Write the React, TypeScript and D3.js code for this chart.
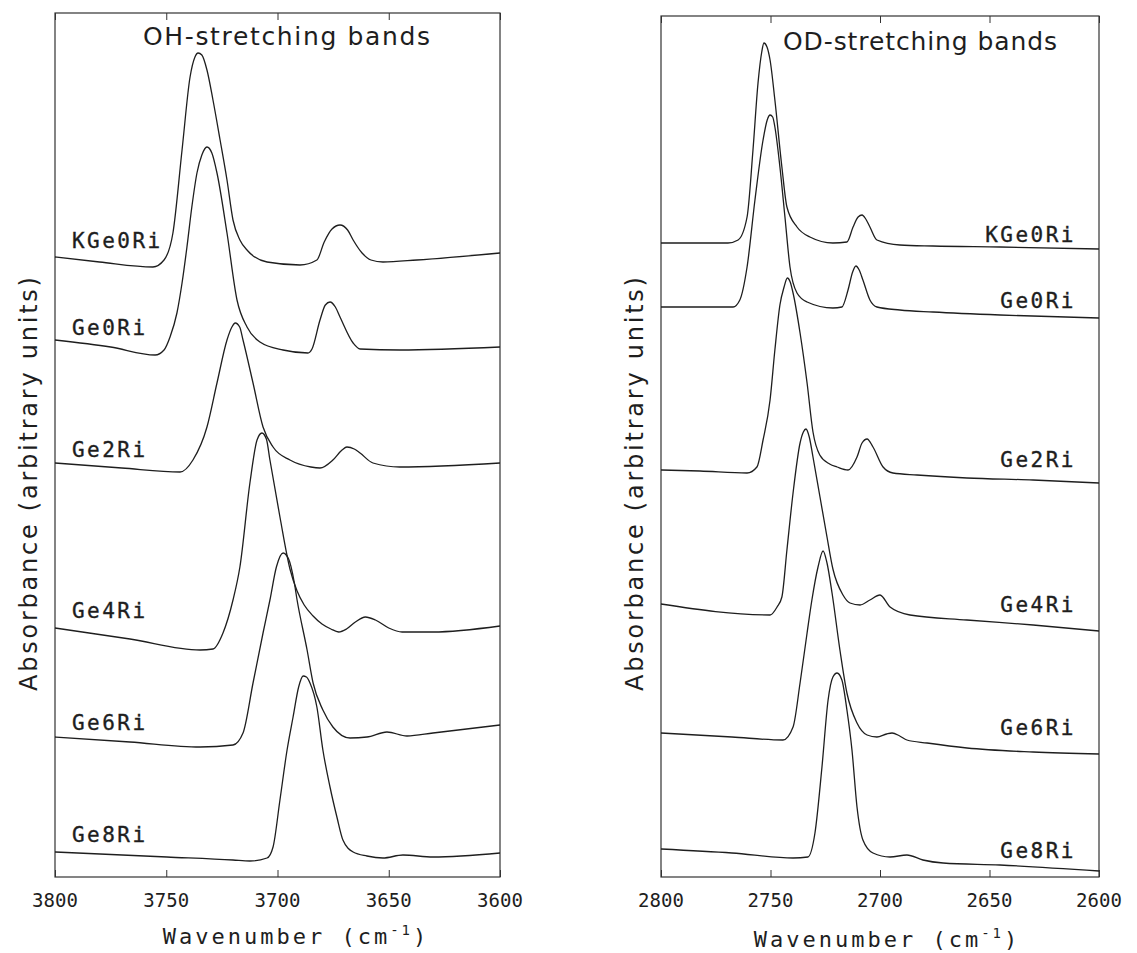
import React, { useEffect, useRef } from 'react';
import * as d3 from 'd3';

type Pt = [number, number];

const sampleNames = ['KGe0Ri', 'Ge0Ri', 'Ge2Ri', 'Ge4Ri', 'Ge6Ri', 'Ge8Ri'];

const ohTicks = [3800, 3750, 3700, 3650, 3600];
const odTicks = [2800, 2750, 2700, 2650, 2600];

// OH-stretching spectra, [wavenumber, absorbance incl. stacking offset]
const ohKGe0Ri: Pt[] = [[3800, 6.2], [3780, 6.15], [3756, 6.1], [3751, 6.17], [3747, 6.44], [3742.9, 7.27], [3739.3, 8.0], [3737.1, 8.2], [3735.7, 8.24], [3734, 8.22], [3731.7, 8.07], [3729, 7.77], [3725.8, 7.37], [3722.7, 6.97], [3720, 6.57], [3716.9, 6.37], [3713.3, 6.26], [3704.7, 6.15], [3689.9, 6.12], [3682.3, 6.17], [3679, 6.35], [3675.5, 6.48], [3671.9, 6.52], [3668.5, 6.47], [3666, 6.37], [3662, 6.24], [3658, 6.17], [3652.6, 6.15], [3637.3, 6.17], [3600, 6.24]];
const ohGe0Ri: Pt[] = [[3800, 5.37], [3775, 5.3], [3755, 5.22], [3751, 5.27], [3748.3, 5.4], [3745.2, 5.64], [3742.9, 5.94], [3740.7, 6.3], [3738.5, 6.7], [3736.2, 7.04], [3734, 7.22], [3731.7, 7.3], [3729.5, 7.24], [3727.2, 7.04], [3722.7, 6.44], [3718.2, 5.77], [3713.7, 5.5], [3707.9, 5.35], [3697.5, 5.27], [3686.3, 5.24], [3684.5, 5.28], [3680.9, 5.57], [3678.5, 5.72], [3676.4, 5.75], [3674, 5.7], [3671.9, 5.6], [3666, 5.34], [3662.9, 5.28], [3645, 5.27], [3600, 5.3]];
const ohGe2Ri: Pt[] = [[3800, 4.14], [3770, 4.09], [3743.8, 4.05], [3738, 4.17], [3731.7, 4.5], [3727.2, 4.94], [3722.7, 5.37], [3720.5, 5.5], [3719, 5.54], [3717, 5.5], [3715.5, 5.37], [3711, 4.94], [3706.5, 4.5], [3702, 4.3], [3694.4, 4.17], [3685, 4.1], [3680.9, 4.09], [3675.1, 4.17], [3671, 4.27], [3668.8, 4.3], [3665.5, 4.28], [3662.9, 4.24], [3657.1, 4.14], [3645, 4.1], [3600, 4.14]];
const ohGe4Ri: Pt[] = [[3800, 2.49], [3766.3, 2.38], [3734.8, 2.27], [3729, 2.28], [3724.5, 2.44], [3720, 2.77], [3716.9, 3.1], [3712.4, 3.94], [3709.2, 4.37], [3707, 4.44], [3705, 4.38], [3703.4, 4.17], [3698.9, 3.6], [3694.4, 3.08], [3691.2, 2.86], [3688, 2.72], [3684, 2.61], [3680, 2.53], [3676, 2.48], [3672.5, 2.45], [3669, 2.48], [3665, 2.55], [3660.5, 2.6], [3656, 2.57], [3650, 2.49], [3644, 2.45], [3630.1, 2.45], [3600, 2.51]];
const ohGe6Ri: Pt[] = [[3800, 1.4], [3766.3, 1.35], [3734.8, 1.3], [3720, 1.32], [3715.5, 1.44], [3711, 1.94], [3706.5, 2.44], [3703.4, 2.77], [3700.5, 3.1], [3697.5, 3.24], [3695, 3.18], [3692.5, 2.95], [3691.2, 2.77], [3686.7, 2.27], [3684, 1.94], [3679.6, 1.67], [3675.1, 1.5], [3667.4, 1.39], [3659.8, 1.4], [3650.8, 1.45], [3641.8, 1.41], [3630.1, 1.44], [3600, 1.52]];
const ohGe8Ri: Pt[] = [[3800, 0.25], [3749.7, 0.2], [3720, 0.17], [3712.4, 0.16], [3704.7, 0.19], [3702, 0.3], [3698.9, 0.77], [3695.7, 1.27], [3693, 1.6], [3690.5, 1.9], [3688.5, 2.01], [3687, 2.0], [3685.4, 1.94], [3682.3, 1.7], [3679.6, 1.27], [3676.4, 0.9], [3673.3, 0.6], [3670.6, 0.37], [3666, 0.25], [3659.8, 0.21], [3652.6, 0.19], [3643.6, 0.22], [3630.1, 0.2], [3600, 0.24]];

// OD-stretching spectra
const odKGe0Ri: Pt[] = [[2800, 6.34], [2769.4, 6.34], [2764.8, 6.37], [2760.7, 6.6], [2758, 7.27], [2755.7, 7.94], [2754, 8.25], [2753, 8.34], [2751.6, 8.3], [2750.2, 8.17], [2748, 7.77], [2744.8, 7.1], [2742.5, 6.7], [2737.9, 6.5], [2732, 6.4], [2721.5, 6.34], [2715.1, 6.35], [2712.3, 6.5], [2710, 6.6], [2708.2, 6.62], [2706.5, 6.58], [2704.6, 6.5], [2701.4, 6.37], [2690.9, 6.32], [2675.8, 6.31], [2645.2, 6.3], [2600, 6.28]];
const odGe0Ri: Pt[] = [[2800, 5.7], [2767.1, 5.7], [2764, 5.77], [2760.7, 6.1], [2757.1, 6.77], [2753.4, 7.37], [2751.5, 7.57], [2750.2, 7.62], [2749, 7.6], [2748, 7.5], [2745.7, 7.1], [2743.4, 6.6], [2741.1, 6.1], [2737.9, 5.84], [2733.3, 5.75], [2721.5, 5.69], [2717.4, 5.7], [2714.6, 5.87], [2712.5, 6.05], [2711, 6.11], [2709.5, 6.07], [2707.8, 5.97], [2704.6, 5.77], [2701.4, 5.7], [2690.9, 5.67], [2675.8, 5.65], [2645.2, 5.62], [2600, 5.59]];
const odGe2Ri: Pt[] = [[2800, 4.07], [2782.2, 4.06], [2760.7, 4.04], [2756.2, 4.1], [2753.4, 4.37], [2750.2, 4.77], [2748, 5.27], [2745.7, 5.72], [2743.8, 5.9], [2742.3, 5.99], [2741, 5.95], [2739.5, 5.82], [2736.5, 5.44], [2733.3, 4.94], [2730.6, 4.45], [2727.5, 4.22], [2723, 4.13], [2719.6, 4.1], [2714.6, 4.07], [2710.5, 4.2], [2708.2, 4.34], [2705.9, 4.38], [2703.2, 4.3], [2698.6, 4.1], [2694.1, 4.04], [2683.1, 4.02], [2660.3, 3.99], [2630.1, 3.97], [2600, 3.94]];
const odGe4Ri: Pt[] = [[2800, 2.73], [2750.2, 2.62], [2747, 2.7], [2744.8, 2.8], [2742.5, 3.27], [2739.7, 3.84], [2736.5, 4.34], [2735, 4.45], [2733.8, 4.48], [2732.3, 4.4], [2730.6, 4.2], [2727.4, 3.8], [2724.2, 3.4], [2721.5, 3.08], [2716.9, 2.82], [2713.7, 2.74], [2709.1, 2.72], [2704.6, 2.77], [2700, 2.82], [2695.4, 2.7], [2686.3, 2.62], [2660.3, 2.57], [2630.1, 2.52], [2600, 2.46]];
const odGe6Ri: Pt[] = [[2800, 1.44], [2767.6, 1.4], [2744.3, 1.37], [2739.7, 1.5], [2736.5, 1.94], [2733.3, 2.44], [2731.1, 2.77], [2728.3, 3.1], [2726, 3.26], [2724.2, 3.14], [2721.9, 2.84], [2718.3, 2.27], [2715.1, 1.84], [2710.5, 1.54], [2705.9, 1.42], [2701.4, 1.4], [2697, 1.43], [2694.5, 1.44], [2691, 1.41], [2687.7, 1.37], [2678.5, 1.34], [2660.3, 1.29], [2630.1, 1.25], [2600, 1.23]];
const odGe8Ri: Pt[] = [[2800, 0.28], [2767.6, 0.24], [2739.7, 0.19], [2732.9, 0.2], [2729.7, 0.44], [2726.5, 1.1], [2723.7, 1.77], [2721.5, 2.0], [2719.6, 2.04], [2717.4, 1.97], [2715.1, 1.67], [2712.8, 1.27], [2710.5, 0.7], [2707.8, 0.37], [2703.2, 0.24], [2695.4, 0.2], [2687.7, 0.22], [2680.4, 0.17], [2671.2, 0.14], [2645.2, 0.12], [2600, 0.06]];

// label baselines (absorbance units) for the sample names
const ohLabelY = [6.29, 5.42, 4.2, 2.59, 1.47, 0.35];
const odLabelY = [6.35, 5.69, 4.1, 2.65, 1.42, 0.19];

const panels = [
    {
        title: 'OH-stretching bands', series: [ohKGe0Ri, ohGe0Ri, ohGe2Ri, ohGe4Ri, ohGe6Ri, ohGe8Ri],
        ticks: ohTicks, labelY: ohLabelY, domain: [3800, 3600], labelWn: 3792.4, anchor: 'start',
        left: 55, right: 500, top: 13, bottom: 877,
        titleX: 143, titleY: 45, titleW: 287, yLabelX: 37, xTitleX: 296, xTitleY: 944
    },
    {
        title: 'OD-stretching bands', series: [odKGe0Ri, odGe0Ri, odGe2Ri, odGe4Ri, odGe6Ri, odGe8Ri],
        ticks: odTicks, labelY: odLabelY, domain: [2800, 2600], labelWn: 2610.5, anchor: 'end',
        left: 661, right: 1099, top: 16, bottom: 877,
        titleX: 783, titleY: 50, titleW: 274, yLabelX: 643, xTitleX: 887, xTitleY: 947
    }
];

const ink = '#1e1e1e';
const mono = '"DejaVu Sans Mono", monospace';
const sans = '"DejaVu Sans", sans-serif';

const App = () => {
    const svgRef = useRef<SVGSVGElement>(null);

    useEffect(() => {
        const svg = d3.select(svgRef.current);
        svg.selectAll('*').remove();

        svg.append('rect').attr('width', 1137).attr('height', 953).attr('fill', '#fff');

        panels.forEach(p => {
            const x = d3.scaleLinear().domain(p.domain).range([p.left, p.right]);
            const y = d3.scaleLinear().domain([0, (p.bottom - p.top) / 100]).range([p.bottom, p.top]);
            const g = svg.append('g');

            // frame
            g.append('rect')
                .attr('x', p.left).attr('y', p.top)
                .attr('width', p.right - p.left).attr('height', p.bottom - p.top)
                .attr('fill', 'none').attr('stroke', '#333').attr('stroke-width', 1.2);

            // inward ticks, bottom and top
            g.append('g')
                .attr('transform', `translate(0,${p.bottom})`)
                .call(d3.axisBottom(x).tickValues(p.ticks).tickSize(-7).tickFormat(() => ''))
                .call(a => a.select('.domain').remove())
                .call(a => a.selectAll('line').attr('stroke', '#333'));
            g.append('g')
                .attr('transform', `translate(0,${p.top})`)
                .call(d3.axisTop(x).tickValues(p.ticks).tickSize(-7).tickFormat(() => ''))
                .call(a => a.select('.domain').remove())
                .call(a => a.selectAll('line').attr('stroke', '#333'));

            // tick labels
            g.selectAll('.tl')
                .data(p.ticks)
                .enter().append('text')
                .attr('x', d => x(d))
                .attr('y', 907)
                .attr('text-anchor', 'middle')
                .attr('font-family', mono)
                .attr('font-size', 19)
                .attr('fill', ink)
                .text(d => String(d));

            // spectra
            const line = d3.line<Pt>()
                .x(d => x(d[0]))
                .y(d => y(d[1]))
                .curve(d3.curveMonotoneX);
            g.selectAll('.spec')
                .data(p.series)
                .enter().append('path')
                .attr('d', d => line(d))
                .attr('fill', 'none')
                .attr('stroke', ink)
                .attr('stroke-width', 1.3)
                .attr('stroke-linejoin', 'round');

            // sample names
            g.selectAll('.name')
                .data(sampleNames)
                .enter().append('text')
                .attr('x', x(p.labelWn))
                .attr('y', (_, i) => y(p.labelY[i]))
                .attr('text-anchor', p.anchor)
                .attr('font-family', mono)
                .attr('font-size', 21)
                .attr('letter-spacing', 2.5)
                .attr('fill', ink)
                .attr('stroke', ink)
                .attr('stroke-width', 0.35)
                .text(d => d);

            // title
            g.append('text')
                .attr('x', p.titleX).attr('y', p.titleY)
                .attr('font-family', sans).attr('font-size', 25)
                .attr('textLength', p.titleW).attr('lengthAdjust', 'spacing')
                .attr('fill', ink)
                .text(p.title);

            // y label
            g.append('text')
                .attr('transform', `translate(${p.yLabelX},484) rotate(-90)`)
                .attr('text-anchor', 'middle')
                .attr('font-family', sans).attr('font-size', 24)
                .attr('textLength', 414).attr('lengthAdjust', 'spacing')
                .attr('fill', ink)
                .text('Absorbance  (arbitrary units)');

            // x title
            const xt = g.append('text')
                .attr('x', p.xTitleX).attr('y', p.xTitleY)
                .attr('text-anchor', 'middle')
                .attr('font-family', mono).attr('font-size', 22)
                .attr('letter-spacing', 3)
                .attr('fill', ink);
            xt.append('tspan').text('Wavenumber (cm');
            xt.append('tspan').attr('dy', -9).attr('font-size', 14).text('-1');
            xt.append('tspan').attr('dy', 9).text(')');
        });
    }, []);

    return (
        <svg ref={svgRef} width={1137} height={953}
            style={{ position: 'absolute', left: 0, top: 0, display: 'block' }} />
    );
};

export default App;
